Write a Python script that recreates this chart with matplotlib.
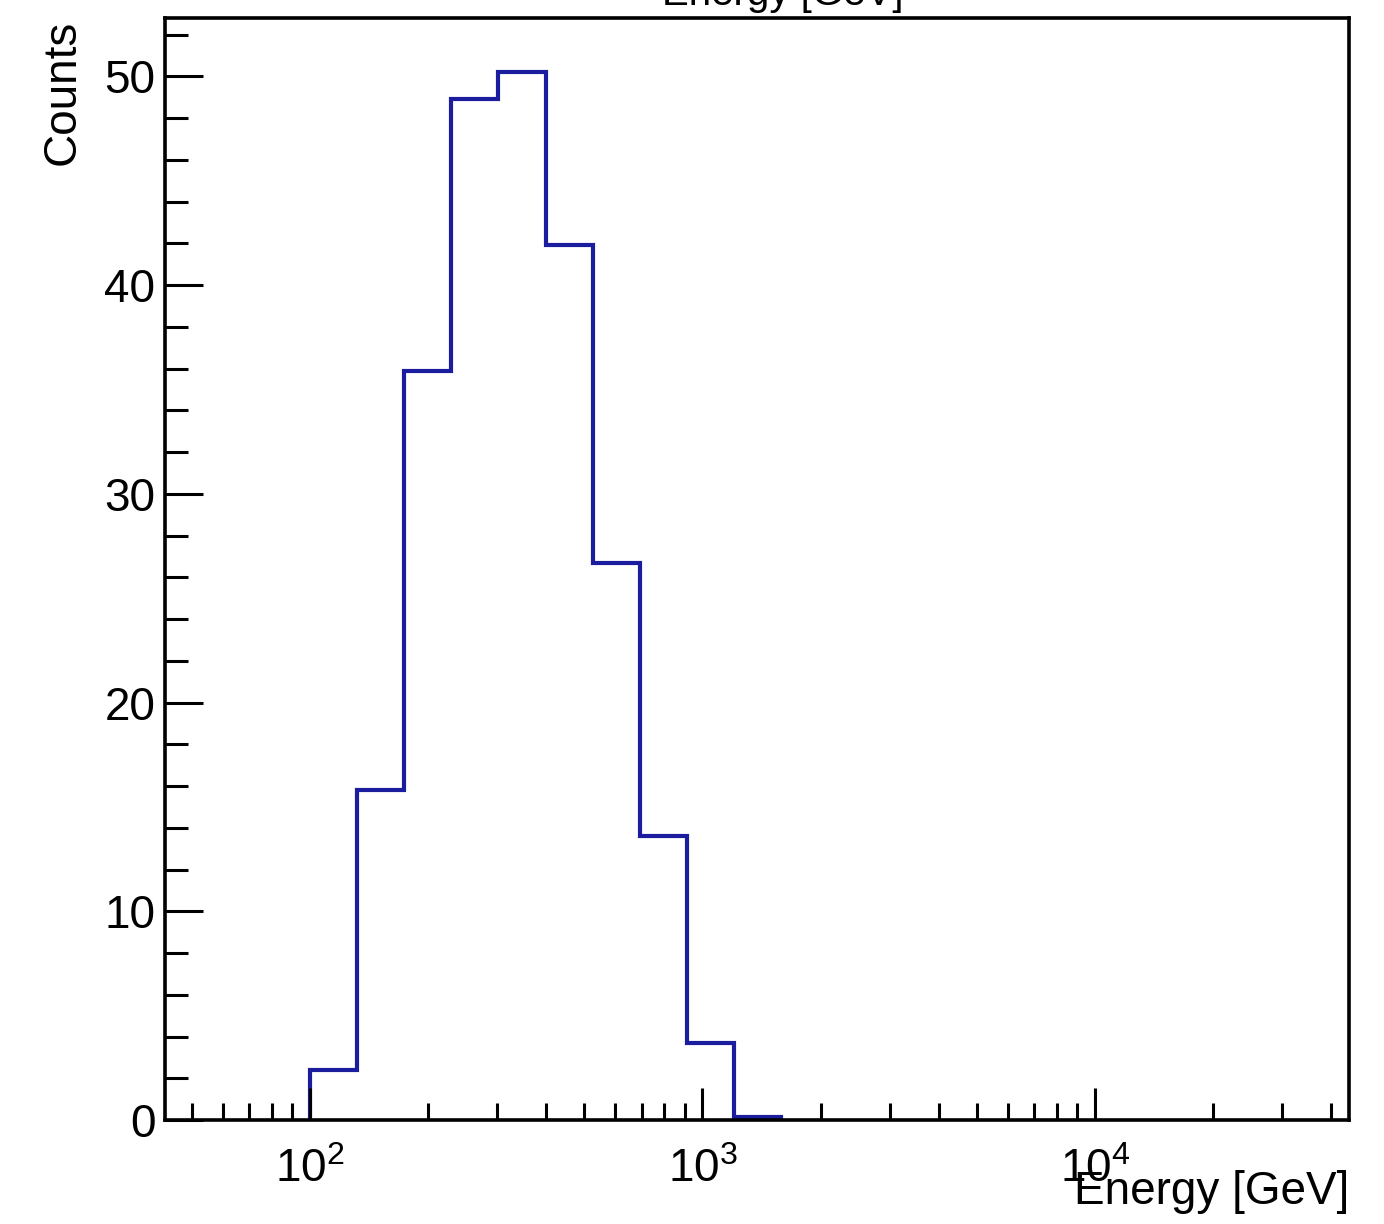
import numpy as np
import matplotlib as mpl
mpl.use('Agg')
import matplotlib.pyplot as plt
from matplotlib.ticker import MultipleLocator, LogLocator, NullFormatter, FuncFormatter

plt.rcParams['font.family'] = ['Liberation Sans', 'DejaVu Sans']
plt.rcParams['mathtext.fontset'] = 'custom'
plt.rcParams['mathtext.rm'] = 'Liberation Sans'

# log bins, 0.12 decade wide, starting at 100 GeV
bin_edges = [100, 131.8, 173.8, 229.1, 302.0, 398.1, 524.8, 691.8, 912.0, 1202.3, 1584.9]
counts = [2.4, 15.8, 35.9, 48.9, 50.2, 41.9, 26.7, 13.6, 3.7, 0.15]

Xmin, Xmax = 42.7, 44400
Ymax = 52.8
LineColor = '#1c1c9e'
TickSize = 33

fig = plt.figure(figsize=(13.84, 12.24), dpi=100)
ax = fig.add_axes([165/1384, 1-1120/1224, (1349-165)/1384, (1120-18)/1224])

ax.stairs(counts, bin_edges, color=LineColor, linewidth=3.0, baseline=0)

ax.set_xscale('log')
ax.set_xlim(Xmin, Xmax)
ax.set_ylim(0, Ymax)

ax.xaxis.set_major_locator(LogLocator(base=10))
ax.xaxis.set_minor_locator(LogLocator(base=10, subs=np.arange(2, 10)))
ax.xaxis.set_major_formatter(FuncFormatter(lambda v, p: r'$\mathregular{10^{%d}}$' % round(np.log10(v))))
ax.xaxis.set_minor_formatter(NullFormatter())
ax.yaxis.set_major_locator(MultipleLocator(10))
ax.yaxis.set_minor_locator(MultipleLocator(2))

ax.tick_params(axis='both', which='both', direction='in', width=2.2,
               top=False, right=False, labelsize=TickSize)
ax.tick_params(axis='x', which='major', length=23, pad=20)
ax.tick_params(axis='x', which='minor', length=12)
ax.tick_params(axis='y', which='major', length=27, pad=7)
ax.tick_params(axis='y', which='minor', length=16.5)
for s in ax.spines.values():
    s.set_linewidth(2.6)

ax.set_ylabel('Counts', fontsize=TickSize, loc='top')
ax.yaxis.set_label_coords(-0.068, 0.998)
ax.set_xlabel('Energy [GeV]', fontsize=TickSize, loc='right')
ax.xaxis.set_label_coords(1.0, -0.045)

# title, mostly cut off by the top edge
fig.text(783/1384, 1-5/1224, 'Energy [GeV]', fontsize=29, ha='center', va='baseline')

plt.savefig('out.png', dpi=100)
